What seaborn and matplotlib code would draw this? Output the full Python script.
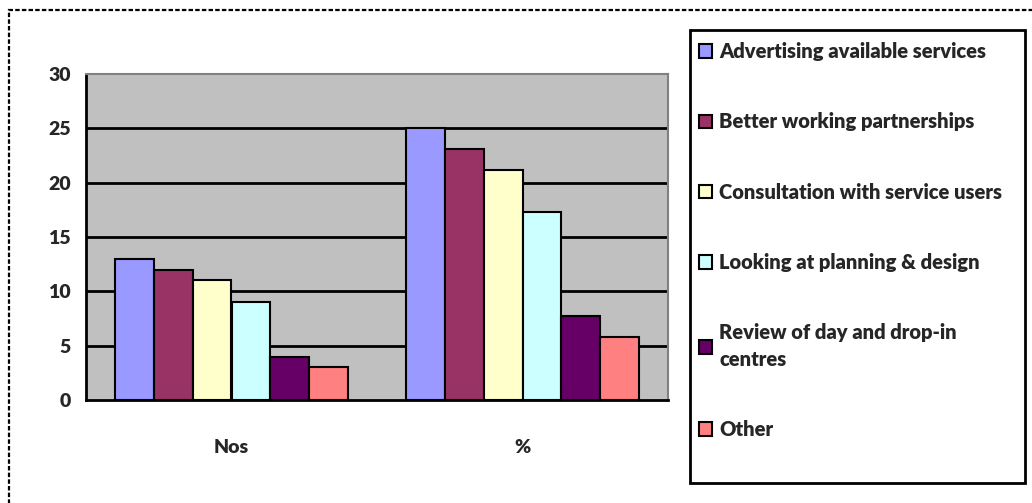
import numpy as np
import pandas as pd
import seaborn as sns
import matplotlib.pyplot as plt
from matplotlib.patches import Rectangle, Patch

groups = ["Nos", "%"]
series = ["Advertising available services", "Better working partnerships",
          "Consultation with service users", "Looking at planning & design",
          "Review of day and drop-in\ncentres", "Other"]
nos_values = [13, 12, 11, 9, 4, 3]
pct_values = [25, 23.1, 21.2, 17.3, 7.7, 5.8]
colors = ["#9999FF", "#993366", "#FFFFCC", "#CCFFFF", "#660066", "#FF8080"]

rows = []
for s, v in zip(series, nos_values):
    rows.append({"group": "Nos", "series": s, "value": v})
for s, v in zip(series, pct_values):
    rows.append({"group": "%", "series": s, "value": v})
df = pd.DataFrame(rows)

sns.set_style("white")
plt.rcParams["font.family"] = ["Lato", "DejaVu Sans"]
plt.rcParams["font.weight"] = "bold"

fig = plt.figure(figsize=(10.32, 5.03), dpi=100)
ax = fig.add_axes([86 / 1032, 103 / 503, 582 / 1032, 326 / 503])
ax.set_facecolor("#C0C0C0")

sns.barplot(data=df, x="group", y="value", hue="series", order=groups,
            hue_order=series, palette=colors, saturation=1, width=0.8,
            edgecolor="black", linewidth=1.5, legend=False, ax=ax, zorder=3)

ax.set_xlim(-0.5, 1.5)
ax.set_ylim(0, 30)
ax.set_yticks(range(0, 31, 5))
for y in range(5, 30, 5):
    ax.axhline(y, color="black", linewidth=2, zorder=1)

ax.set_xlabel("")
ax.set_ylabel("")
ax.tick_params(axis="y", length=7, width=2, direction="out", labelsize=14, pad=4)
ax.tick_params(axis="x", length=0, labelsize=14, pad=28)
ax.set_xticks([-0.5, 0.5, 1.5], minor=True)
ax.tick_params(axis="x", which="minor", length=7, width=2, direction="out")
for lab in ax.get_xticklabels() + ax.get_yticklabels():
    lab.set_fontweight("heavy")

for side in ["left", "bottom"]:
    ax.spines[side].set_color("black")
    ax.spines[side].set_linewidth(2)
for side in ["top", "right"]:
    ax.spines[side].set_color("#808080")
    ax.spines[side].set_linewidth(1.5)

handles = [Patch(facecolor=c, edgecolor="black", linewidth=1.5) for c in colors]
leg = fig.legend(handles, series, loc="upper left",
                 bbox_to_anchor=(699 / 1032, 1 - 42 / 503),
                 frameon=False, fontsize=14.5,
                 handlelength=0.65, handleheight=0.65, handletextpad=0.35,
                 labelspacing=2.55, borderpad=0, borderaxespad=0)
for t in leg.get_texts():
    t.set_fontweight("heavy")
    t.set_linespacing(1.45)

# legend box
fig.patches.append(Rectangle((690 / 1032, 1 - 483 / 503), 335 / 1032, 453 / 503,
                             transform=fig.transFigure, fill=False,
                             edgecolor="black", linewidth=2))

border = Rectangle((9 / 1032, -0.05), 1.2, 1 - 10 / 503 + 0.05,
                   transform=fig.transFigure, fill=False, edgecolor="black",
                   linewidth=1.6, linestyle=(0, (2, 1)))
fig.patches.append(border)

fig.savefig("out.png", dpi=100)
